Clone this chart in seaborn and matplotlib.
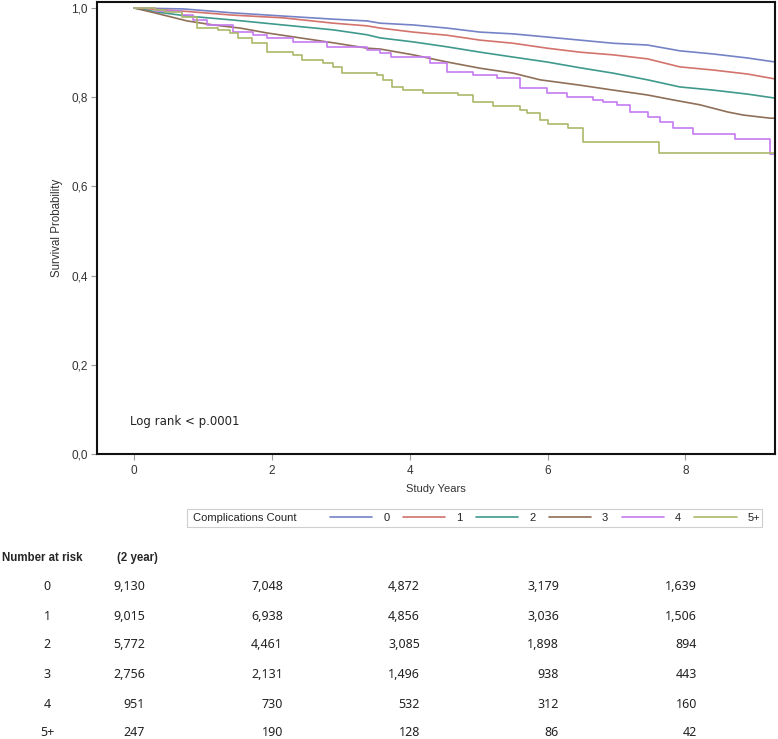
import pandas as pd
import matplotlib
matplotlib.use('Agg')
import matplotlib.pyplot as plt
import seaborn as sns
from matplotlib.patches import Rectangle
from matplotlib.lines import Line2D

# Kaplan-Meier curves (years, survival)
groups = ['0', '1', '2', '3', '4', '5+']
colors = ['#7583c6', '#d3736d', '#3f9a8d', '#8f6f57', '#c57af0', '#abb86a']

t0 = [0, 0.71, 1.44, 2.16, 2.89, 3.38, 3.57, 4.05, 4.54, 5.02, 5.50, 5.99, 6.47, 6.95, 7.45, 7.92, 8.40, 8.90, 9.30]
s0 = [1.0, 0.998, 0.989, 0.982, 0.975, 0.971, 0.966, 0.962, 0.955, 0.946, 0.942, 0.935, 0.928, 0.921, 0.917, 0.904, 0.897, 0.888, 0.879]

t1 = [0, 0.71, 1.44, 2.16, 2.89, 3.38, 3.57, 4.05, 4.54, 5.02, 5.50, 5.99, 6.47, 6.95, 7.45, 7.92, 8.40, 8.90, 9.30]
s1 = [1.0, 0.993, 0.984, 0.978, 0.966, 0.960, 0.955, 0.946, 0.939, 0.928, 0.921, 0.910, 0.901, 0.895, 0.886, 0.868, 0.861, 0.852, 0.841]

t2 = [0, 0.33, 0.77, 1.44, 2.16, 2.89, 3.38, 3.57, 4.05, 4.54, 5.02, 5.50, 5.99, 6.47, 6.95, 7.45, 7.92, 8.40, 8.90, 9.30]
s2 = [1.0, 0.991, 0.982, 0.973, 0.962, 0.951, 0.940, 0.933, 0.924, 0.913, 0.901, 0.890, 0.879, 0.866, 0.854, 0.839, 0.823, 0.816, 0.807, 0.798]

t3 = [0, 0.30, 0.77, 1.15, 1.54, 1.93, 2.41, 2.89, 3.38, 3.57, 4.05, 4.54, 5.02, 5.50, 5.89, 6.47, 6.95, 7.45, 7.82, 8.21, 8.61, 8.84, 9.23, 9.30]
s3 = [1.0, 0.989, 0.971, 0.962, 0.955, 0.944, 0.933, 0.922, 0.910, 0.908, 0.895, 0.879, 0.865, 0.854, 0.839, 0.827, 0.816, 0.805, 0.794, 0.783, 0.767, 0.760, 0.753, 0.753]

t4 = [0, 0.30, 0.70, 0.86, 1.06, 1.44, 1.73, 1.93, 2.31, 2.80, 3.38, 3.57, 3.72, 4.30, 4.54, 4.92, 5.27, 5.60, 5.99, 6.28, 6.66, 6.81, 7.01, 7.20, 7.45, 7.63, 7.82, 8.11, 8.72, 9.23, 9.30]
s4 = [1.0, 0.993, 0.984, 0.973, 0.962, 0.946, 0.939, 0.933, 0.924, 0.913, 0.906, 0.899, 0.890, 0.877, 0.857, 0.850, 0.843, 0.821, 0.809, 0.800, 0.794, 0.789, 0.783, 0.767, 0.756, 0.744, 0.731, 0.717, 0.706, 0.673, 0.673]

t5 = [0, 0.30, 0.45, 0.70, 0.91, 1.22, 1.39, 1.51, 1.71, 1.93, 2.31, 2.44, 2.74, 2.89, 3.02, 3.53, 3.61, 3.74, 3.90, 4.19, 4.70, 4.91, 5.21, 5.60, 5.70, 5.89, 6.01, 6.30, 6.52, 7.61, 9.30]
s5 = [1.0, 0.996, 0.990, 0.980, 0.955, 0.951, 0.944, 0.933, 0.922, 0.901, 0.895, 0.883, 0.877, 0.868, 0.854, 0.850, 0.839, 0.823, 0.816, 0.809, 0.805, 0.789, 0.780, 0.771, 0.765, 0.749, 0.740, 0.731, 0.700, 0.675, 0.675]

times = [t0, t1, t2, t3, t4, t5]
survs = [s0, s1, s2, s3, s4, s5]

yticks = [0.0, 0.2, 0.4, 0.6, 0.8, 1.0]
ytick_labels = ['0,0', '0,2', '0,4', '0,6', '0,8', '1,0']
xticks = [0, 2, 4, 6, 8]

# number at risk table
risk_rows = ['0', '1', '2', '3', '4', '5+']
risk_c1 = ['9,130', '9,015', '5,772', '2,756', '951', '247']
risk_c2 = ['7,048', '6,938', '4,461', '2,131', '730', '190']
risk_c3 = ['4,872', '4,856', '3,085', '1,496', '532', '128']
risk_c4 = ['3,179', '3,036', '1,898', '938', '312', '86']
risk_c5 = ['1,639', '1,506', '894', '443', '160', '42']

frames = []
for g, t, s in zip(groups, times, survs):
    frames.append(pd.DataFrame({'years': t, 'surv': s, 'group': g}))
df = pd.concat(frames, ignore_index=True)
pal = dict(zip(groups, colors))

sns.set_style('white')
plt.rcParams['font.family'] = ['Liberation Sans', 'DejaVu Sans']

W, H = 778, 739
fig = plt.figure(figsize=(W / 100, H / 100), dpi=100)
fig.patch.set_facecolor('white')
ax = fig.add_axes([97 / W, 1 - 454 / H, 678 / W, 452 / H])

# the big groups have many tiny steps -> read as a polyline;
# the small groups have coarse visible steps
dense = df[df['group'].isin(['0', '1', '2', '3'])]
coarse = df[df['group'].isin(['4', '5+'])]
sns.lineplot(data=dense, x='years', y='surv', hue='group', palette=pal,
             estimator=None, sort=False, linewidth=1.2, legend=False, ax=ax)
sns.lineplot(data=coarse, x='years', y='surv', hue='group', palette=pal,
             estimator=None, sort=False, drawstyle='steps-post',
             linewidth=1.2, legend=False, ax=ax)

ax.set_xlim(-0.54, 9.30)
ax.set_ylim(0, 1.0135)
ax.set_xticks(xticks)
ax.set_xticklabels([str(x) for x in xticks])
ax.set_yticks(yticks)
ax.set_yticklabels(ytick_labels)
ax.tick_params(direction='out', length=4, width=0.8, color='#9a9a9a',
               labelsize=8.5, labelcolor='#333333', left=True, bottom=True)
ax.tick_params(axis='y', pad=2.5)
ax.tick_params(axis='x', pad=4)
for sp in ax.spines.values():
    sp.set_color('#111111')
    sp.set_linewidth(1.5)
ax.set_xlabel('Study Years', fontsize=8, color='#333333')
ax.set_ylabel('Survival Probability', fontsize=8.3, color='#333333')
ax.xaxis.set_label_coords(0.5, -(484 - 454) / 452)
ax.yaxis.set_label_coords(-(97 - 63) / 678, 0.5)

ax.text((130 - 97) / 678, (454 - 421) / 452, 'Log rank < p.0001', transform=ax.transAxes,
        fontsize=8.5, family=['DejaVu Sans'], va='center', ha='left', color='#222222')

# legend below the axes
handles = [Line2D([], [], color=c, linewidth=1.2) for c in colors]
fig.legend(handles, groups, ncol=6, loc='center left',
           bbox_to_anchor=(330 / W, 1 - 518 / H), frameon=False,
           borderpad=0, borderaxespad=0, handlelength=3.8, handletextpad=1.0,
           columnspacing=1.2, fontsize=8, labelcolor='#222222')
fig.text(193 / W, 1 - 518 / H, 'Complications Count', fontsize=8, va='center',
         ha='left', color='#222222')
fig.patches.append(Rectangle((187 / W, 1 - 527 / H), (762 - 187) / W, 18 / H,
                             transform=fig.transFigure, fill=False,
                             edgecolor='#cfcfcf', linewidth=0.8))

# number at risk table
tf = ['Noto Sans', 'DejaVu Sans']
fig.text(2 / W, 1 - 558 / H, 'Number at risk', fontsize=8.3, fontweight='bold',
         family=['Liberation Sans'], va='center', ha='left')
fig.text(117 / W, 1 - 558 / H, '(2 year)', fontsize=8.3, fontweight='bold',
         family=['Liberation Sans'], va='center', ha='left')
row_y = [586, 616, 645, 674, 704, 733]
col_x = [145, 283, 420, 559, 697]
cols = [risk_c1, risk_c2, risk_c3, risk_c4, risk_c5]
for i, (lab, y) in enumerate(zip(risk_rows, row_y)):
    fig.text(47 / W, 1 - y / H, lab, fontsize=9, family=tf, va='center', ha='center',
             color='#222222')
    for cx, col in zip(col_x, cols):
        fig.text(cx / W, 1 - y / H, col[i], fontsize=9, family=tf, va='center',
                 ha='right', color='#222222')

fig.savefig('out.png', dpi=100)
